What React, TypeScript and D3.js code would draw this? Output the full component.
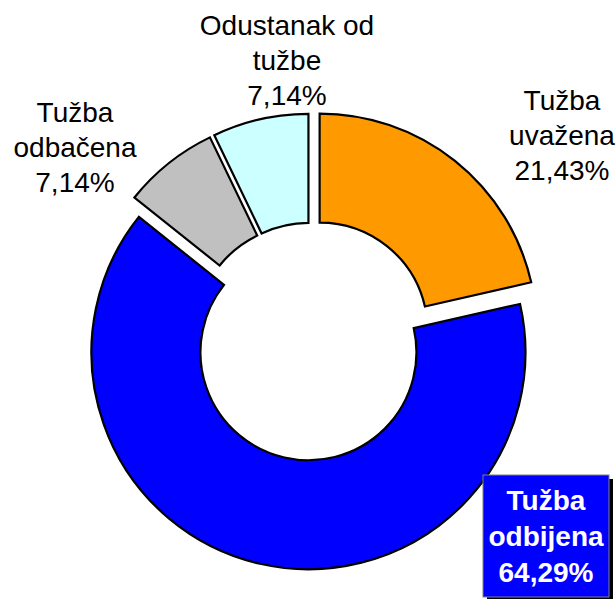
import React from "react";
import * as d3 from "d3";

const categories = ["Tužba uvažena", "Tužba odbijena", "Tužba odbačena", "Odustanak od tužbe"];
const values = [21.43, 64.29, 7.14, 7.14];
const colors = ["#FF9900", "#0000FF", "#C0C0C0", "#CCFFFF"];
const explode = [14, 11, 11, 11];
const labelLines = [
  ["Tužba", "uvažena", "21,43%"],
  ["Tužba", "odbijena", "64,29%"],
  ["Tužba", "odbačena", "7,14%"],
  ["Odustanak od", "tužbe", "7,14%"],
];

const W = 616;
const H = 599;
const CX = 310.9;
const CY = 341.5;
const R = 217;
const r = 108;
const FONT = "'Liberation Sans', Arial, Helvetica, sans-serif";

export default function App() {
  const pie = d3.pie<number>().sort(null).startAngle(0).endAngle(2 * Math.PI);
  const arcs = pie(values);
  const arcGen = d3.arc<d3.PieArcDatum<number>>().innerRadius(r).outerRadius(R);

  // label anchor positions (center x, first baseline y)
  const labelPos: [number, number][] = [
    [562, 110],
    [546, 510],
    [75, 122],
    [287, 35],
  ];
  const lineH = 35;

  return (
    <svg
      width={W}
      height={H}
      style={{ position: "absolute", left: 0, top: 0, background: "#fff" }}
    >
      <rect x={0} y={0} width={W} height={H} fill="#fff" />
      {arcs.map((a, i) => {
        const mid = (a.startAngle + a.endAngle) / 2;
        const dx = Math.sin(mid) * explode[i];
        const dy = -Math.cos(mid) * explode[i];
        return (
          <path
            key={categories[i]}
            d={arcGen(a) || ""}
            transform={`translate(${CX + dx},${CY + dy})`}
            fill={colors[i]}
            stroke="#000"
            strokeWidth={2.2}
            strokeLinejoin="miter"
          />
        );
      })}
      {labelLines.map((lines, i) => {
        const [lx, ly] = labelPos[i];
        if (i === 1) {
          return (
            <g key={"lbl" + i}>
              <rect x={487} y={479} width={126} height={122} fill="#000" />
              <rect x={483} y={475} width={126} height={122} fill="#0000FF" stroke="#808080" strokeWidth={1} />
              <text
                fontFamily={FONT}
                fontSize={28}
                fontWeight="bold"
                fill="#fff"
                textAnchor="middle"
              >
                {lines.map((t, j) => (
                  <tspan key={j} x={lx} y={ly + j * 36}>
                    {t}
                  </tspan>
                ))}
              </text>
            </g>
          );
        }
        return (
          <text
            key={"lbl" + i}
            fontFamily={FONT}
            fontSize={28}
            fill="#000"
            textAnchor="middle"
          >
            {lines.map((t, j) => (
              <tspan key={j} x={lx} y={ly + j * lineH}>
                {t}
              </tspan>
            ))}
          </text>
        );
      })}
    </svg>
  );
}
